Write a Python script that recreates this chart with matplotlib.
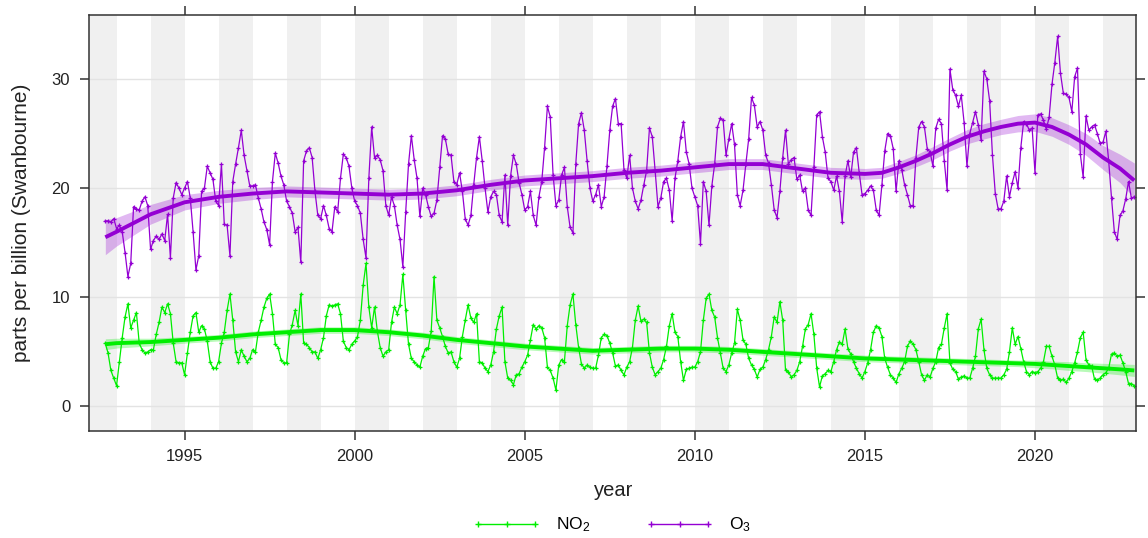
import numpy as np
import matplotlib.pyplot as plt
from matplotlib.lines import Line2D

plt.rcParams['font.family'] = ['Liberation Sans', 'DejaVu Sans']
plt.rcParams['mathtext.fontset'] = 'custom'
plt.rcParams['mathtext.rm'] = 'Liberation Sans'
plt.rcParams['mathtext.it'] = 'Liberation Sans:italic'

# monthly means at Swanbourne, Sep 1992 .. Dec 2022 (ppb)
START_YEAR = 1992
START_MONTH = 9

no2 = [
    5.8, 4.9, 3.3, 2.6,
    1.9, 4.1, 6.3, 8.2, 9.4, 7.2, 7.9, 8.6, 5.8, 5.2, 4.9, 5.0,    # 1993
    5.2, 5.2, 6.6, 7.7, 9.1, 8.6, 9.4, 8.5, 5.8, 4.1, 4.0, 4.0,    # 1994
    2.9, 4.9, 6.8, 8.3, 8.6, 6.8, 7.4, 7.1, 6.0, 4.1, 3.5, 3.5,    # 1995
    4.1, 5.8, 6.8, 8.8, 10.3, 7.9, 5.0, 4.1, 5.2, 4.6, 4.1, 4.4,   # 1996
    5.2, 5.0, 6.8, 7.9, 9.1, 9.9, 10.3, 8.5, 5.7, 5.4, 4.3, 4.0,   # 1997
    4.0, 6.6, 7.5, 8.8, 7.4, 10.3, 5.8, 5.7, 5.4, 5.0, 5.0, 4.4,   # 1998
    5.2, 6.3, 8.3, 9.3, 9.2, 9.3, 9.4, 8.5, 6.0, 5.4, 5.2, 5.7,    # 1999
    6.0, 6.4, 7.9, 11.1, 13.1, 9.1, 7.2, 9.1, 6.9, 5.4, 4.6, 5.0,  # 2000
    5.2, 7.7, 9.1, 8.5, 9.3, 12.1, 8.8, 5.7, 4.4, 4.1, 3.8, 3.6,   # 2001
    4.6, 5.3, 5.4, 6.9, 11.9, 7.9, 7.2, 6.4, 5.5, 4.9, 5.0, 4.1,   # 2002
    3.6, 4.4, 6.4, 7.9, 9.3, 8.1, 7.7, 8.5, 4.1, 4.0, 3.5, 3.2,    # 2003
    3.8, 5.0, 7.1, 8.3, 9.1, 4.1, 2.6, 2.4, 2.0, 2.9, 3.0, 3.6,    # 2004
    4.1, 4.7, 6.1, 7.5, 7.1, 7.4, 7.2, 6.3, 3.6, 3.3, 2.6, 1.5,    # 2005
    3.8, 4.3, 4.1, 7.4, 9.3, 10.3, 7.5, 5.4, 3.9, 3.5, 3.8, 3.6,   # 2006
    3.5, 3.5, 4.7, 6.3, 6.6, 6.5, 5.8, 4.9, 3.7, 3.8, 3.3, 2.9,    # 2007
    3.6, 4.1, 5.4, 7.9, 9.2, 7.8, 8.0, 7.7, 4.9, 3.6, 2.9, 3.2,    # 2008
    3.5, 4.3, 5.5, 7.4, 8.5, 6.8, 6.4, 4.1, 2.4, 3.4, 3.5, 3.6,    # 2009
    3.6, 4.1, 5.0, 7.9, 9.9, 10.3, 8.8, 8.2, 6.3, 4.9, 3.5, 3.2,   # 2010
    3.8, 4.9, 5.8, 8.9, 7.9, 6.1, 5.7, 4.4, 3.8, 3.4, 2.7, 3.4,    # 2011
    3.6, 4.3, 5.2, 6.4, 8.2, 7.7, 9.6, 7.9, 3.3, 3.2, 2.7, 2.9,    # 2012
    3.3, 4.1, 5.5, 7.1, 7.5, 8.5, 6.6, 3.5, 1.8, 2.8, 3.0, 3.3,    # 2013
    3.2, 4.1, 5.2, 5.9, 5.7, 7.1, 5.3, 4.8, 4.1, 3.5, 3.0, 2.6,    # 2014
    3.2, 4.0, 5.2, 6.8, 7.4, 7.2, 6.4, 4.4, 3.6, 2.9, 2.6, 2.2,    # 2015
    3.0, 3.5, 4.1, 5.5, 6.0, 5.7, 5.2, 4.1, 2.9, 2.4, 2.9, 2.7,    # 2016
    3.5, 4.1, 5.4, 5.7, 7.2, 8.5, 4.0, 3.4, 3.2, 2.5, 2.7, 2.8,    # 2017
    2.6, 2.6, 3.5, 4.6, 7.1, 8.0, 5.2, 3.5, 2.9, 2.6, 2.6, 2.6,    # 2018
    2.6, 2.9, 3.4, 5.0, 7.2, 5.7, 6.4, 5.3, 4.1, 3.2, 2.9, 3.2,    # 2019
    3.1, 3.2, 3.5, 4.1, 5.5, 5.5, 4.6, 3.8, 2.6, 2.4, 2.5, 2.2,    # 2020
    2.6, 3.2, 4.0, 5.0, 6.3, 6.8, 4.3, 3.8, 3.7, 2.5, 2.4, 2.6,    # 2021
    2.9, 3.1, 3.5, 4.8, 4.9, 4.6, 4.7, 4.0, 3.2, 2.1, 2.1, 1.9,    # 2022
]

o3 = [
    17.0, 17.0, 16.9, 17.2,
    16.3, 16.6, 16.0, 14.1, 11.9, 13.1, 18.3, 18.1, 18.0, 18.8, 19.2, 18.4,  # 1993
    14.4, 15.2, 15.6, 15.3, 15.8, 15.2, 17.6, 13.6, 19.1, 20.5, 20.0, 19.4,  # 1994
    20.0, 20.6, 19.1, 16.0, 12.5, 13.8, 19.7, 20.0, 22.0, 21.4, 20.8, 18.8,  # 1995
    18.4, 22.2, 16.7, 16.6, 13.8, 20.6, 22.2, 23.7, 25.3, 23.0, 21.6, 20.2,  # 1996
    20.2, 20.3, 19.1, 18.1, 16.9, 16.2, 14.8, 20.6, 23.2, 22.3, 21.1, 20.3,  # 1997
    18.8, 18.3, 17.7, 16.0, 16.4, 13.2, 22.5, 23.4, 23.7, 22.8, 19.7, 17.5,  # 1998
    17.2, 18.4, 17.5, 16.3, 16.0, 18.3, 17.8, 20.9, 23.1, 22.8, 22.0, 20.0,  # 1999
    18.8, 18.4, 17.7, 15.3, 13.6, 20.9, 25.6, 22.8, 23.0, 22.6, 21.6, 18.4,  # 2000
    17.5, 19.2, 18.4, 16.6, 15.3, 12.8, 17.8, 22.2, 24.8, 22.6, 20.9, 17.4,  # 2001
    20.0, 19.4, 18.3, 17.4, 17.7, 18.9, 21.9, 24.8, 24.5, 23.1, 23.0, 20.6,  # 2002
    20.3, 21.4, 19.7, 17.2, 16.6, 17.5, 20.3, 22.8, 24.7, 22.5, 20.0, 17.8,  # 2003
    19.2, 19.7, 19.4, 17.5, 16.9, 21.2, 16.6, 21.1, 23.0, 22.2, 20.5, 19.4,  # 2004
    18.0, 18.3, 19.7, 17.5, 16.6, 19.2, 20.6, 23.7, 27.5, 26.5, 21.2, 18.4,  # 2005
    18.9, 21.2, 21.9, 18.3, 16.4, 15.9, 22.2, 25.9, 26.9, 25.3, 22.5, 20.0,  # 2006
    18.8, 19.4, 20.3, 18.3, 19.2, 22.0, 25.3, 27.5, 28.2, 25.9, 25.9, 21.7,  # 2007
    20.9, 23.0, 20.0, 18.8, 18.1, 18.9, 20.3, 21.6, 25.5, 24.7, 21.6, 18.3,  # 2008
    19.1, 20.6, 20.9, 19.8, 17.0, 20.9, 22.5, 24.7, 26.1, 23.3, 22.2, 20.0,  # 2009
    19.2, 18.4, 14.9, 20.6, 19.7, 16.6, 20.2, 22.2, 25.6, 26.4, 26.2, 23.0,  # 2010
    24.5, 25.9, 24.0, 19.4, 18.4, 19.8, 22.2, 24.5, 28.3, 27.6, 25.6, 26.1,  # 2011
    25.3, 23.0, 22.3, 20.3, 18.0, 17.3, 19.7, 22.8, 25.3, 22.2, 22.6, 22.8,  # 2012
    20.8, 21.2, 19.7, 20.0, 18.0, 17.5, 21.9, 26.7, 27.0, 24.7, 23.3, 20.9,  # 2013
    20.6, 19.8, 21.1, 19.7, 16.9, 21.1, 22.5, 21.0, 23.3, 23.7, 21.4, 19.4,  # 2014
    19.5, 19.8, 20.2, 19.8, 18.0, 17.5, 20.3, 23.4, 25.0, 24.8, 23.6, 19.7,  # 2015
    22.5, 21.7, 20.3, 19.4, 18.4, 18.4, 22.8, 25.6, 26.1, 25.6, 23.6, 23.3,  # 2016
    22.0, 25.5, 26.3, 25.9, 22.5, 19.8, 30.9, 29.0, 28.5, 27.5, 28.5, 26.0,  # 2017
    22.0, 25.0, 26.0, 27.0, 25.8, 24.4, 30.7, 30.0, 28.0, 23.0, 19.5, 18.1,  # 2018
    18.1, 18.8, 21.1, 19.2, 20.5, 21.5, 20.0, 23.7, 26.1, 25.9, 25.3, 25.5,  # 2019
    21.4, 26.7, 26.8, 26.2, 25.4, 26.5, 29.5, 31.5, 33.9, 30.5, 28.7, 28.6,  # 2020
    28.3, 27.0, 30.2, 31.0, 23.1, 21.0, 26.6, 25.3, 25.6, 25.8, 25.0, 24.1,  # 2021
    24.2, 25.2, 22.5, 19.1, 16.0, 15.3, 17.5, 17.9, 19.0, 20.6, 19.1, 19.2,  # 2022
]

# smooth trend with 95% band
trend_year = [1992.67, 1993, 1993.5, 1994, 1995, 1996, 1997, 1998, 1999, 2000,
              2001, 2002, 2003, 2004, 2005, 2006, 2007, 2008, 2009, 2010,
              2011, 2012, 2013, 2014, 2015, 2015.5, 2016, 2016.5, 2017, 2017.5,
              2018, 2018.5, 2019, 2019.5, 2020, 2020.5, 2021, 2021.5, 2022, 2022.5,
              2022.92]
o3_trend = [15.5, 16.0, 16.8, 17.6, 18.7, 19.2, 19.5, 19.7, 19.6, 19.5,
            19.4, 19.5, 19.8, 20.3, 20.7, 20.9, 21.1, 21.4, 21.6, 21.9,
            22.2, 22.2, 21.8, 21.4, 21.3, 21.4, 21.9, 22.5, 23.2, 24.0,
            24.7, 25.2, 25.6, 25.9, 26.0, 25.6, 24.9, 24.0, 22.8, 21.8,
            20.7]
o3_ci = [1.6, 1.3, 1.1, 0.9, 0.7, 0.6, 0.55, 0.5, 0.5, 0.5,
         0.5, 0.5, 0.5, 0.5, 0.5, 0.5, 0.5, 0.5, 0.5, 0.5,
         0.5, 0.5, 0.5, 0.5, 0.5, 0.5, 0.55, 0.55, 0.6, 0.6,
         0.65, 0.7, 0.7, 0.75, 0.8, 0.85, 0.9, 1.0, 1.1, 1.3,
         1.6]
no2_trend = [5.7, 5.8, 5.85, 5.9, 6.1, 6.3, 6.6, 6.8, 7.0, 7.0,
             6.8, 6.5, 6.1, 5.8, 5.5, 5.3, 5.1, 5.2, 5.3, 5.3,
             5.2, 5.0, 4.8, 4.6, 4.4, 4.35, 4.3, 4.25, 4.2, 4.15,
             4.1, 4.05, 4.0, 3.95, 3.9, 3.8, 3.7, 3.6, 3.5, 3.4,
             3.3]
no2_ci = [0.5, 0.45, 0.4, 0.35, 0.3, 0.3, 0.3, 0.3, 0.3, 0.3,
          0.3, 0.3, 0.3, 0.3, 0.3, 0.3, 0.3, 0.3, 0.3, 0.3,
          0.3, 0.3, 0.3, 0.3, 0.3, 0.3, 0.3, 0.3, 0.3, 0.3,
          0.3, 0.3, 0.3, 0.3, 0.35, 0.35, 0.4, 0.4, 0.45, 0.5,
          0.55]

GREEN = '#00EE00'
PURPLE = '#9400D3'

# decimal year of each monthly value
dates = START_YEAR + (START_MONTH - 1 + np.arange(len(no2))) / 12.0

W, H = 1148, 538
fig = plt.figure(figsize=(W / 100, H / 100), dpi=100)
ax = fig.add_axes([89 / W, 1 - 430.5 / H, (1136 - 89) / W, (430.5 - 14.5) / H])

# alternating year stripes
for yr in range(1992, 2023, 2):
    ax.axvspan(yr, yr + 1, color='#F0F0F0', lw=0, zorder=0)
ax.set_axisbelow(True)
ax.grid(axis='y', color='#E3E3E3', lw=1)

for vals, col in [(no2, GREEN), (o3, PURPLE)]:
    ax.plot(dates, vals, color=col, lw=0.9, marker='+', ms=3.5, mew=0.9, zorder=2)

ty = np.array(trend_year)
for tr, ci, col in [(no2_trend, no2_ci, GREEN), (o3_trend, o3_ci, PURPLE)]:
    tr = np.array(tr)
    ci = np.array(ci)
    ax.fill_between(ty, tr - ci, tr + ci, color=col, alpha=0.28, lw=0, zorder=3)
    ax.plot(ty, tr, color=col, lw=2.8, solid_capstyle='butt', zorder=4)

ax.set_xlim(1992.19, 2022.97)
ax.set_ylim(-2.2, 35.9)
ax.set_xticks(range(1995, 2021, 5))
ax.set_yticks([0, 10, 20, 30])
ax.tick_params(direction='out', length=6.5, width=1.1, color='#333333',
               labelsize=12, labelcolor='#222222', pad=7,
               top=True, right=True, labeltop=False, labelright=False)
for sp in ax.spines.values():
    sp.set_color('#333333')
    sp.set_linewidth(1.1)

fig.text(614 / W, 1 - 491 / H, 'year', ha='center', va='center', fontsize=14.5, color='#222222')
fig.text(22 / W, 1 - 222.5 / H, 'parts per billion (Swanbourne)', rotation=90,
         ha='center', va='center', fontsize=15, color='#222222')

handles = [Line2D([], [], color=GREEN, lw=1, marker='+', ms=5, mew=1),
           Line2D([], [], color=PURPLE, lw=1, marker='+', ms=5, mew=1)]
fig.legend(handles, ['NO$_2$', 'O$_3$'], loc='center', bbox_to_anchor=(612 / W, 1 - 525 / H),
           ncol=2, frameon=False, numpoints=3, handlelength=3.9, handletextpad=0.9,
           columnspacing=3.2, fontsize=12.5)

fig.savefig('out.png', dpi=100)
